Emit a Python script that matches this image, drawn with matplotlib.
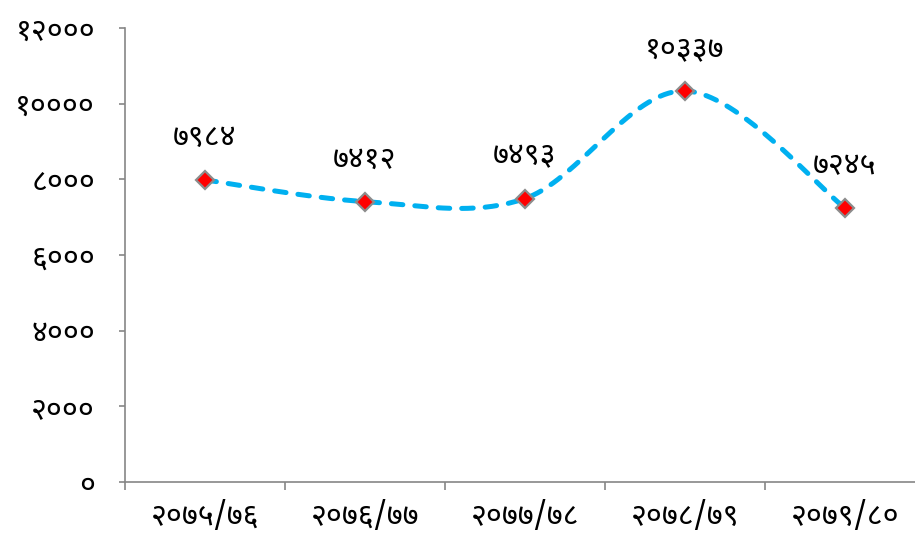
import matplotlib

matplotlib.use("Agg")
import matplotlib.pyplot as plt
import numpy as np

# data (Nepali fiscal years, values shown in Devanagari numerals)
years = ["२०७५/७६", "२०७६/७७", "२०७७/७८", "२०७८/७९", "२०७९/८०"]
values = [7984, 7412, 7493, 10337, 7245]
yticks = [0, 2000, 4000, 6000, 8000, 10000, 12000]

DEVA = str.maketrans("0123456789", "०१२३४५६७८९")
FONT = ["Noto Sans Devanagari", "DejaVu Sans"]
AXIS_C = "#868686"
LINE_C = "#00B0F0"
FS = 22


def smooth(x, y, n=40):
    # Excel-style smoothed line: cubic bezier with catmull-rom control points
    x = np.asarray(x, float)
    y = np.asarray(y, float)
    px = np.concatenate([[x[0]], x, [x[-1]]])
    py = np.concatenate([[y[0]], y, [y[-1]]])
    t = np.linspace(0, 1, n)[:, None]
    xs, ys = [], []
    for i in range(1, len(x)):
        p0 = np.array([px[i], py[i]])
        p3 = np.array([px[i + 1], py[i + 1]])
        c1 = p0 + (p3 - np.array([px[i - 1], py[i - 1]])) / 6
        c2 = p3 - (np.array([px[i + 2], py[i + 2]]) - p0) / 6
        b = ((1 - t) ** 3) * p0 + 3 * ((1 - t) ** 2) * t * c1 + 3 * (1 - t) * t ** 2 * c2 + t ** 3 * p3
        xs.append(b[:, 0])
        ys.append(b[:, 1])
    return np.concatenate(xs), np.concatenate(ys)


def main() -> None:
    plt.rcParams["font.family"] = FONT
    fig = plt.figure(figsize=(9.15, 5.34), dpi=100)
    ax = fig.add_axes([125 / 915, 52 / 534, 800 / 915, 454 / 534])

    xi = np.arange(len(values))
    sx, sy = smooth(xi, values)
    ax.plot(sx, sy, color=LINE_C, lw=3.6, ls=(0, (2.3, 2.4)),
            dash_capstyle="round", zorder=2)
    ax.plot(xi, values, ls="none", marker="D", ms=9.5, mfc="#ff0000",
            mec="#8c8c8c", mew=1.6, zorder=3)

    for x, v in zip(xi, values):
        ax.annotate(str(v).translate(DEVA), (x, v), xytext=(0, 42),
                    textcoords="offset pixels", ha="center", va="center",
                    fontsize=FS, color="black")

    ax.set_xlim(-0.5, len(values) - 0.5)
    ax.set_ylim(0, 12000)
    ax.set_yticks(yticks)
    ax.set_yticklabels([str(t).translate(DEVA) for t in yticks], fontsize=FS)
    ax.set_xticks(xi)
    ax.set_xticklabels(years, fontsize=FS)
    ax.set_xticks(np.arange(len(values) + 1) - 0.5, minor=True)

    ax.tick_params(axis="x", which="major", length=0, pad=14)
    ax.tick_params(axis="x", which="minor", length=6, width=1.2, color=AXIS_C)
    ax.tick_params(axis="y", length=4.5, width=1.2, color=AXIS_C, pad=17)

    for s in ["top", "right"]:
        ax.spines[s].set_visible(False)
    for s in ["left", "bottom"]:
        ax.spines[s].set_color(AXIS_C)
        ax.spines[s].set_linewidth(1.2)

    fig.savefig("out.png", dpi=100)
    plt.close(fig)


if __name__ == "__main__":
    main()
